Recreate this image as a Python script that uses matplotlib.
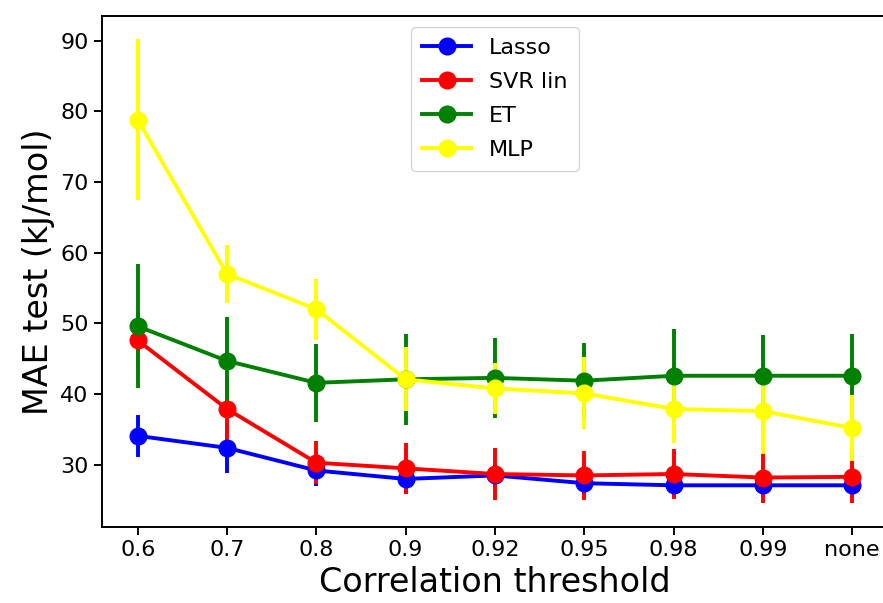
import matplotlib
matplotlib.use("Agg")
import matplotlib.pyplot as plt
from matplotlib.lines import Line2D
import numpy as np

thresholds = ['0.6', '0.7', '0.8', '0.9', '0.92', '0.95', '0.98', '0.99', 'none']

lasso = [34.1, 32.4, 29.2, 28.0, 28.5, 27.4, 27.1, 27.1, 27.1]
lasso_err = [3.0, 3.5, 2.2, 2.0, 1.8, 1.6, 1.6, 1.6, 1.6]

svr = [47.6, 37.9, 30.3, 29.5, 28.7, 28.5, 28.7, 28.2, 28.3]
svr_err = [4.0, 4.4, 3.0, 3.6, 3.7, 3.5, 3.5, 3.6, 3.7]

et = [49.6, 44.7, 41.6, 42.1, 42.3, 41.9, 42.6, 42.6, 42.6]
et_err = [8.8, 6.2, 5.5, 6.4, 5.7, 5.4, 6.6, 5.7, 5.9]

mlp = [78.8, 57.0, 52.0, 42.1, 40.8, 40.1, 37.9, 37.6, 35.2]
mlp_err = [11.4, 4.1, 4.3, 4.5, 3.6, 5.1, 4.8, 6.0, 4.7]

models = ['Lasso', 'SVR lin', 'ET', 'MLP']
colors = ['blue', 'red', 'green', 'yellow']

x = np.arange(len(thresholds))

fig = plt.figure(figsize=(8.83, 6.03), dpi=100)
ax = fig.add_axes([0.1155, 0.126, 0.89, 0.8475])

handles = []
for name, col, vals, err in zip(models, colors, [lasso, svr, et, mlp],
                                [lasso_err, svr_err, et_err, mlp_err]):
    ax.errorbar(x, vals, yerr=err, fmt='o-', color=col, lw=2.8, ms=12)
    handles.append(Line2D([], [], color=col, marker='o', lw=2.8, ms=12, label=name))

ax.set_xticks(x)
ax.set_xticklabels(thresholds)
ax.set_xlim(-0.4, 8.4)
ax.set_ylim(21.2, 93.5)
ax.set_yticks([30, 40, 50, 60, 70, 80, 90])
ax.tick_params(labelsize=16, width=1.4, length=6)
for s in ax.spines.values():
    s.set_linewidth(1.4)

ax.set_xlabel('Correlation threshold', fontsize=24)
ax.set_ylabel('MAE test (kJ/mol)', fontsize=24)
ax.legend(handles=handles, loc='upper center', fontsize=16, borderpad=0.5,
          labelspacing=0.62, handlelength=2.2)

fig.savefig('out.png', dpi=100)
